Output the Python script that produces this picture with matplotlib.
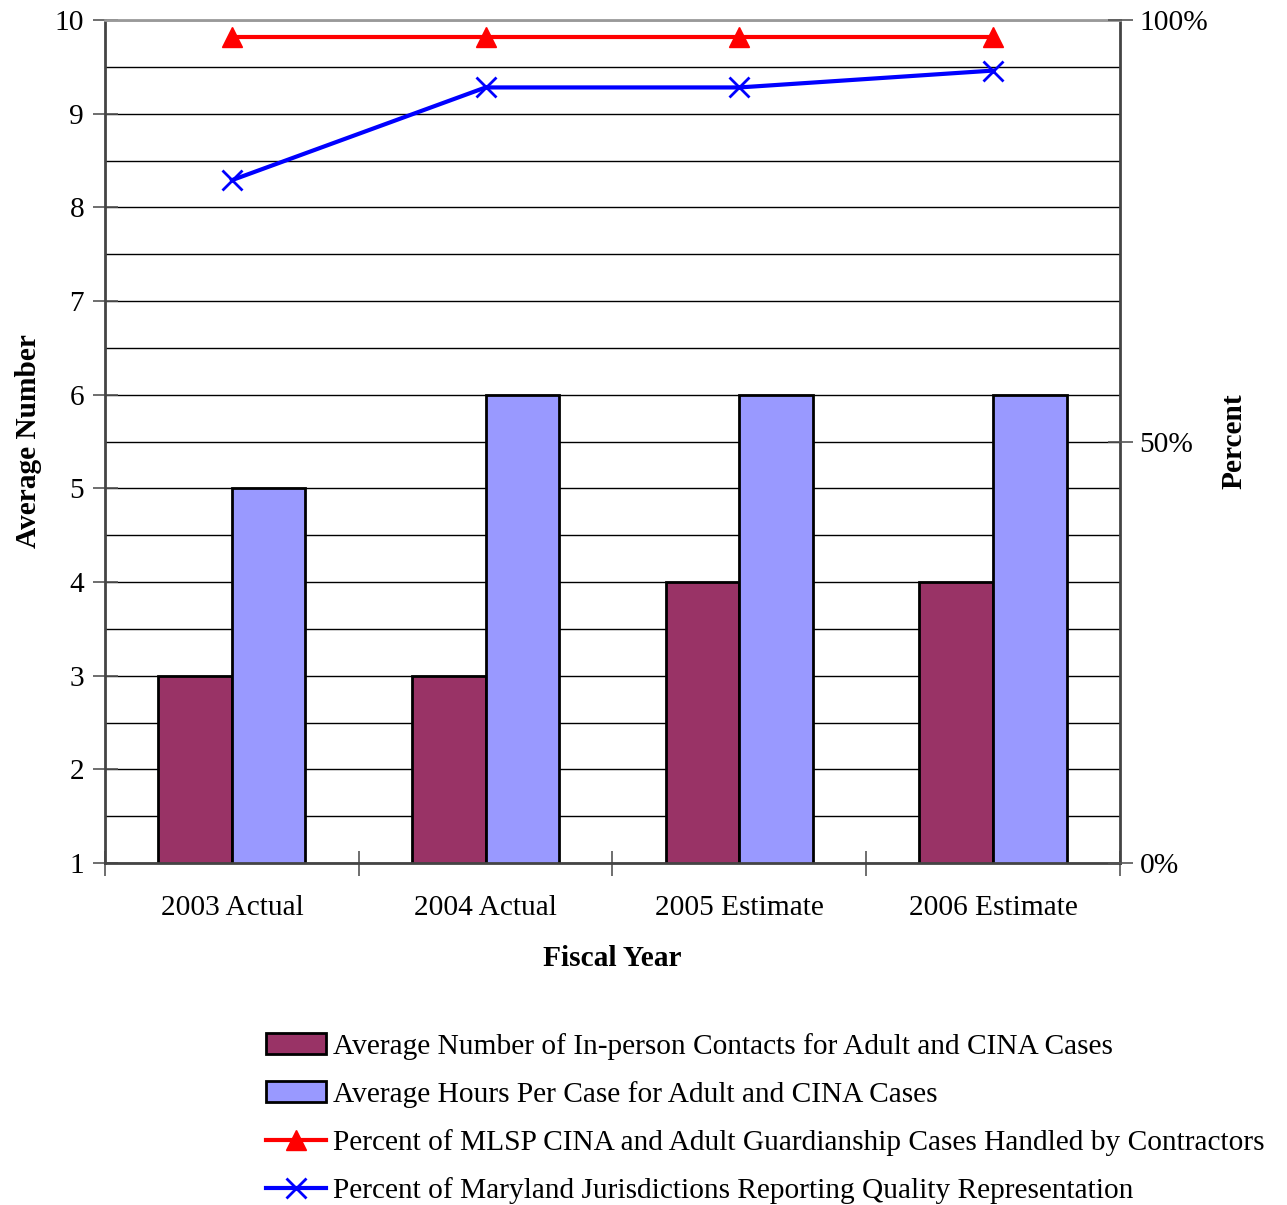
import matplotlib

matplotlib.use("Agg")
import matplotlib.pyplot as plt
import numpy as np
from matplotlib.lines import Line2D
from matplotlib.patches import Patch
from matplotlib.ticker import FuncFormatter, MultipleLocator

plt.rcParams["font.family"] = ["Liberation Serif", "DejaVu Serif"]

categories = ["2003 Actual", "2004 Actual", "2005 Estimate", "2006 Estimate"]
contacts = [3, 3, 4, 4]
hours = [5, 6, 6, 6]
pct_contractors = [0.98, 0.98, 0.98, 0.98]
pct_quality = [0.81, 0.92, 0.92, 0.94]

labels = [
    "Average Number of In-person Contacts for Adult and CINA Cases",
    "Average Hours Per Case for Adult and CINA Cases",
    "Percent of MLSP CINA and Adult Guardianship Cases Handled by Contractors",
    "Percent of Maryland Jurisdictions Reporting Quality Representation",
]

PURPLE = "#993366"
LAVENDER = "#9999FF"
FS = 21.2

fig = plt.figure(figsize=(12.87, 12.05), dpi=100)
ax = fig.add_axes([0.0816, 0.2838, 0.7886, 0.6996])

x = np.arange(len(categories))
w = 0.29
ax.bar(x - w / 2, contacts, w, color=PURPLE, edgecolor="black", linewidth=2, zorder=2)
ax.bar(x + w / 2, hours, w, color=LAVENDER, edgecolor="black", linewidth=2, zorder=2)

ax.set_xlim(-0.5, len(categories) - 0.5)
ax.set_ylim(1, 10)
ax.yaxis.set_major_locator(MultipleLocator(1))
ax.yaxis.set_minor_locator(MultipleLocator(0.5))
ax.grid(axis="y", which="both", color="black", linewidth=1)
ax.set_axisbelow(True)

# ticks sit on the category boundaries, labels in the middle
ax.set_xticks(np.arange(len(categories) + 1) - 0.5)
ax.set_xticklabels([])
ax.set_xticks(x, minor=True)
ax.set_xticklabels(categories, minor=True, fontsize=FS)
ax.tick_params(axis="x", which="major", direction="inout", length=18, width=1.2, color="#555555")
ax.tick_params(axis="x", which="minor", length=0, pad=23)
ax.tick_params(axis="y", which="major", direction="inout", length=18, width=1.2,
               color="#555555", labelsize=FS, pad=6)
ax.tick_params(axis="y", which="minor", length=0)

for side in ["left", "right", "bottom"]:
    ax.spines[side].set_color("#444444")
    ax.spines[side].set_linewidth(2)
ax.spines["top"].set_color("#999999")
ax.spines["top"].set_linewidth(2)

ax.set_xlabel("Fiscal Year", fontsize=FS, fontweight="bold", labelpad=17)
ax.set_ylabel("Average Number", fontsize=FS, fontweight="bold", labelpad=9)

ax2 = ax.twinx()
ax2.set_ylim(0, 1)
ax2.set_yticks([0, 0.5, 1])
ax2.yaxis.set_major_formatter(FuncFormatter(lambda v, _: f"{v:.0%}"))
ax2.tick_params(axis="y", direction="inout", length=18, width=1.2, color="#555555",
                labelsize=FS, pad=5)
for sp in ax2.spines.values():
    sp.set_visible(False)
ax2.plot(x, pct_contractors, color="#FF0000", linewidth=3, marker="^",
         markersize=15, clip_on=False)
ax2.plot(x, pct_quality, color="#0000FF", linewidth=3, marker="x",
         markersize=15, markeredgewidth=2, clip_on=False)
ax2.set_ylabel("Percent", fontsize=FS, fontweight="bold", labelpad=9)

handles = [
    Patch(facecolor=PURPLE, edgecolor="black", linewidth=2),
    Patch(facecolor=LAVENDER, edgecolor="black", linewidth=2),
    Line2D([], [], color="#FF0000", linewidth=3, marker="^", markersize=15),
    Line2D([], [], color="#0000FF", linewidth=3, marker="x", markersize=15, markeredgewidth=2),
]
fig.legend(handles, labels, loc="upper left", bbox_to_anchor=(0.2065, 0.143),
           frameon=False, fontsize=FS, handlelength=2.05, handletextpad=0.25,
           labelspacing=0.72, borderaxespad=0, borderpad=0)

fig.savefig("out.png", dpi=100)
